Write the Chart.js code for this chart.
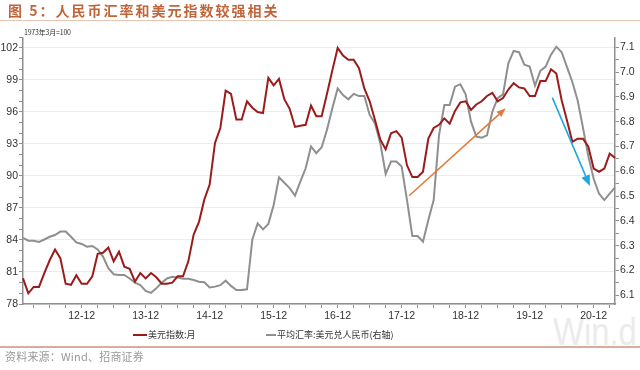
<!DOCTYPE html>
<html>
<head>
<meta charset="utf-8">
<script src="https://cdn.jsdelivr.net/npm/chart.js@4.4.1/dist/chart.umd.min.js"></script>
<style>
html,body{margin:0;padding:0;background:#fff;width:640px;height:370px;overflow:hidden;}
#wrap{position:relative;width:640px;height:370px;}
canvas{position:absolute;left:0;top:0;z-index:1;}
.t{position:absolute;white-space:nowrap;z-index:2;}
#title{left:8px;top:0px;font:bold 14px "Noto Sans CJK SC";color:#c0643a;letter-spacing:2px;line-height:20px;}
#tline{position:absolute;left:0;top:20px;width:640px;height:1px;background:#e5c6b5;z-index:2;}
#unit{left:24px;top:28px;font:7px "Noto Sans CJK SC";color:#333;line-height:9px;letter-spacing:-0.2px;}
#legend{left:0;top:328px;height:14px;width:640px;font:9px "Noto Sans CJK SC";color:#333;line-height:14px;}
.lg-line{position:absolute;top:6px;height:2px;}
.lg-text{position:absolute;top:0;}
#fline{position:absolute;left:0;top:346px;width:640px;height:2px;background:#d5ae9c;z-index:2;}
#foot{left:5px;top:349px;font:11px "Noto Sans CJK SC";color:#999;line-height:14px;letter-spacing:0.2px;}
#wm{position:absolute;left:553px;top:312px;font:39px "Liberation Sans";color:#ebebeb;z-index:0;line-height:39px;white-space:nowrap;transform:scaleX(0.84);transform-origin:0 0;}
</style>
</head>
<body>
<div id="wrap">
  <div id="wm">Win.d</div>
  <canvas id="c" width="640" height="370"></canvas>
  <div class="t" id="title">图 5：人民币汇率和美元指数较强相关</div>
  <div id="tline"></div>
  <div class="t" id="unit">1973年3月=100</div>
  <div class="t" id="legend"></div>
  <div id="fline"></div>
  <div class="t" id="foot">资料来源：Wind、招商证券</div>
</div>
<script>
// ---- categories: monthly, Jan 2012 .. Apr 2021 (labels "YY-MM") ----
const startYear = 12, endYear = 21, endMonth = 4;
const months = [];
for (let y = startYear; y <= endYear; y++) {
  for (let m = 1; m <= 12; m++) {
    if (y === endYear && m > endMonth) break;
    months.push(String(y) + '-' + String(m).padStart(2, '0'));
  }
}

// ---- series: US dollar index (left axis, 1973.3=100) ----
const usdIndex = [
  80.4, 79.0, 79.6, 79.6, 80.9, 82.1, 83.1, 82.3, 79.9, 79.8, 80.7, 79.9,
  79.9, 80.6, 82.7, 82.8, 83.3, 82.0, 82.9, 81.5, 81.3, 80.1, 80.9, 80.4,
  80.9, 80.5, 79.9, 79.9, 80.0, 80.6, 80.6, 82.0, 84.5, 85.7, 87.8, 89.2,
  93.1, 94.5, 98.0, 97.7, 95.3, 95.3, 97.0, 96.4, 96.0, 95.9, 99.2, 98.5,
  99.1, 97.2, 96.3, 94.6, 94.7, 94.8, 96.6, 95.6, 95.6, 97.7, 99.9, 102.0,
  101.3, 100.9, 100.9, 100.1, 98.2, 97.0, 95.25, 93.4, 92.5, 94.0, 94.2, 93.6,
  91.0, 89.9, 89.9, 90.4, 93.5, 94.5, 94.8, 95.4, 94.9, 96.1, 96.9, 97.0,
  96.2, 96.7, 97.0, 97.5, 97.8, 97.0, 97.3, 98.1, 98.7, 98.3, 98.2, 97.5,
  97.5, 98.9, 98.9, 100.0, 99.6, 97.1, 95.2, 93.2, 93.5, 93.5, 92.75, 90.7,
  90.4, 90.7, 92.1, 91.7
];

// ---- series: average USD/CNY rate (right axis) ----
const cnyRate = [
  6.332, 6.320, 6.320, 6.315, 6.325, 6.336, 6.343, 6.357, 6.357, 6.336, 6.313, 6.307,
  6.296, 6.299, 6.285, 6.256, 6.209, 6.185, 6.182, 6.182, 6.168, 6.151, 6.141, 6.118,
  6.110, 6.128, 6.151, 6.168, 6.175, 6.172, 6.167, 6.167, 6.162, 6.155, 6.153, 6.132,
  6.135, 6.141, 6.159, 6.138, 6.121, 6.121, 6.124, 6.325, 6.390, 6.366, 6.388, 6.464,
  6.576, 6.554, 6.532, 6.502, 6.558, 6.612, 6.700, 6.673, 6.697, 6.767, 6.854, 6.934,
  6.907, 6.890, 6.912, 6.903, 6.903, 6.827, 6.793, 6.713, 6.589, 6.639, 6.639, 6.619,
  6.484, 6.339, 6.339, 6.316, 6.404, 6.484, 6.745, 6.867, 6.867, 6.941, 6.951, 6.910,
  6.800, 6.740, 6.735, 6.745, 6.840, 6.895, 6.910, 7.035, 7.085, 7.080, 7.030, 7.022,
  6.945, 7.005, 7.022, 7.070, 7.102, 7.080, 7.020, 6.960, 6.885, 6.775, 6.660, 6.570,
  6.510, 6.484, 6.510, 6.535
];

// ---- tick labels ----
const leftTicks = [78, 81, 84, 87, 90, 93, 96, 99, 102];
const rightTicks = [6.1, 6.2, 6.3, 6.4, 6.5, 6.6, 6.7, 6.8, 6.9, 7.0, 7.1];

const seriesNames = ['美元指数:月', '平均汇率:美元兑人民币(右轴)'];
const seriesColors = ['#9b1b1b', '#8f8f8f'];

// trend arrows, in data coordinates (category index, left-axis value)
const arrows = [
  { from: [72.4, 88.15], to: [90.5, 96.35], color: '#e07b39', head: 9, width: 7 },
  { from: [99.25, 97.34], to: [106.3, 89.06], color: '#1fa8e0', head: 11, width: 9 }
];

const FONT = '"Liberation Sans", Arial, sans-serif';
const AXIS = '#8f8f8f';

const arrowPlugin = {
  id: 'arrows',
  afterDatasetsDraw(chart) {
    const c = chart.ctx, xs = chart.scales.x, ys = chart.scales.y;
    arrows.forEach(a => {
      const x0 = xs.getPixelForValue(a.from[0]), y0 = ys.getPixelForValue(a.from[1]);
      const x1 = xs.getPixelForValue(a.to[0]), y1 = ys.getPixelForValue(a.to[1]);
      const ang = Math.atan2(y1 - y0, x1 - x0);
      const bx = x1 - a.head * Math.cos(ang), by = y1 - a.head * Math.sin(ang);
      c.save();
      c.strokeStyle = a.color; c.fillStyle = a.color; c.lineWidth = 1.6;
      c.beginPath(); c.moveTo(x0, y0); c.lineTo(bx, by); c.stroke();
      const px = -Math.sin(ang) * a.width / 2, py = Math.cos(ang) * a.width / 2;
      c.beginPath(); c.moveTo(x1, y1); c.lineTo(bx + px, by + py); c.lineTo(bx - px, by - py); c.closePath(); c.fill();
      c.restore();
    });
  }
};

function range(a, b, step) {
  const out = [];
  const n = Math.round((b - a) / step);
  for (let i = 0; i <= n; i++) out.push(Math.round((a + i * step) * 1000) / 1000);
  return out;
}
const isLeftMajor = v => leftTicks.includes(v);
const isRightMajor = v => rightTicks.some(t => Math.abs(t - v) < 1e-6);

const chart = new Chart(document.getElementById('c'), {
  type: 'line',
  data: {
    labels: months,
    datasets: [
      { label: seriesNames[0], data: usdIndex, yAxisID: 'y', borderColor: seriesColors[0], backgroundColor: seriesColors[0], borderWidth: 2, pointRadius: 0, tension: 0 },
      { label: seriesNames[1], data: cnyRate, yAxisID: 'y1', borderColor: seriesColors[1], backgroundColor: seriesColors[1], borderWidth: 2, pointRadius: 0, tension: 0 }
    ]
  },
  options: {
    responsive: false, animation: false, devicePixelRatio: 1,
    layout: { padding: { top: 37.3, left: 0, right: 0, bottom: 40 } },
    plugins: { legend: { display: false }, tooltip: { enabled: false } },
    scales: {
      x: {
        type: 'category', offset: false,
        grid: { drawOnChartArea: false, tickLength: 4, lineWidth: 1,
          tickColor: ctx => (ctx.index % 3 === 2 ? AXIS : 'rgba(0,0,0,0)') },
        border: { color: AXIS, width: 1.5 },
        ticks: { autoSkip: false, maxRotation: 0, minRotation: 0, padding: 2, color: '#333',
          font: { size: 10.5, family: FONT },
          callback: (v, i) => (months[i].endsWith('-12') ? months[i] : '') },
        afterFit: s => { s.height = 26; }
      },
      y: {
        position: 'left', min: 78, max: 103,
        afterBuildTicks: s => { s.ticks = range(78, 103, 1).map(v => ({ value: v })); },
        grid: { drawOnChartArea: true, tickLength: 4, lineWidth: 1, tickColor: AXIS,
          color: ctx => (ctx.tick && isLeftMajor(ctx.tick.value) ? '#ececec' : 'rgba(0,0,0,0)') },
        border: { color: AXIS, width: 1.5 },
        ticks: { autoSkip: false, padding: 1, color: '#333', font: { size: 10.5, family: FONT },
          callback: v => (isLeftMajor(v) ? String(v) : '') },
        afterFit: s => { s.width = 23; }
      },
      y1: {
        position: 'right', min: 6.065, max: 7.14,
        afterBuildTicks: s => { s.ticks = range(6.1, 7.1, 0.05).map(v => ({ value: v })); },
        grid: { drawOnChartArea: false, tickLength: 4, lineWidth: 1, tickColor: AXIS },
        border: { color: AXIS, width: 1.5 },
        ticks: { autoSkip: false, padding: 1, color: '#333', font: { size: 10.5, family: FONT },
          callback: v => (isRightMajor(v) ? v.toFixed(1) : '') },
        afterFit: s => { s.width = 25; }
      }
    }
  },
  plugins: [arrowPlugin]
});

// legend built from the datasets
const lg = document.getElementById('legend');
const lgPos = [{ line: 133, w: 14, text: 148 }, { line: 266, w: 10, text: 277 }];
chart.data.datasets.forEach((ds, i) => {
  const l = document.createElement('div');
  l.className = 'lg-line';
  l.style.left = lgPos[i].line + 'px'; l.style.width = lgPos[i].w + 'px'; l.style.background = ds.borderColor;
  const t = document.createElement('div');
  t.className = 'lg-text'; t.style.left = lgPos[i].text + 'px'; t.textContent = ds.label;
  lg.appendChild(l); lg.appendChild(t);
});
</script>
</body>
</html>
